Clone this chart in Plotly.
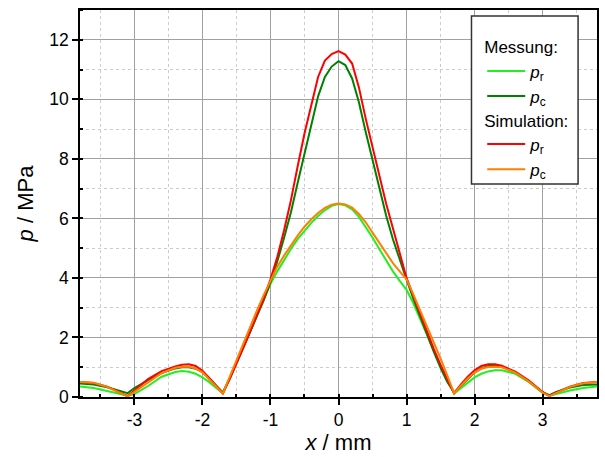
import plotly.graph_objects as go

x_mm = [-3.8, -3.6, -3.4, -3.2, -3.1, -3.0, -2.8, -2.6, -2.4, -2.3, -2.2, -2.1, -2.0, -1.9, -1.8,
        -1.7, -1.6, -1.5, -1.4, -1.3, -1.2, -1.1, -1.0, -0.9, -0.8, -0.7, -0.6, -0.5, -0.4, -0.3, -0.2, -0.1,
        0.0,
        0.1, 0.2, 0.3, 0.4, 0.5, 0.6, 0.7, 0.8, 0.9, 1.0, 1.1, 1.2, 1.3, 1.4, 1.5, 1.6, 1.7,
        1.8, 1.9, 2.0, 2.1, 2.2, 2.3, 2.4, 2.6, 2.8, 3.0, 3.1, 3.2, 3.4, 3.6, 3.8]

# Messung p_r (hellgrün)
mess_pr = [0.35, 0.30, 0.20, 0.10, 0.04, 0.10, 0.37, 0.68, 0.84, 0.87, 0.85, 0.78, 0.66, 0.50, 0.30,
           0.12, 0.62, 1.15, 1.70, 2.25, 2.80, 3.32, 3.80, 4.22, 4.60, 4.97, 5.30, 5.58, 5.85, 6.08, 6.28, 6.42,
           6.48,
           6.44, 6.30, 6.05, 5.72, 5.36, 4.97, 4.58, 4.22, 3.90, 3.60, 3.15, 2.65, 2.10, 1.55, 1.05, 0.55, 0.12,
           0.30, 0.50, 0.66, 0.78, 0.86, 0.90, 0.90, 0.78, 0.50, 0.14, 0.05, 0.10, 0.22, 0.30, 0.35]

# Messung p_c (dunkelgrün)
mess_pc = [0.45, 0.42, 0.33, 0.20, 0.13, 0.30, 0.57, 0.80, 0.96, 1.00, 1.00, 0.95, 0.84, 0.62, 0.38,
           0.15, 0.62, 1.12, 1.65, 2.18, 2.72, 3.25, 3.85, 4.55, 5.35, 6.20, 7.20, 8.20, 9.10, 10.10, 10.75, 11.10,
           11.28,
           11.15, 10.70, 9.90, 8.90, 7.98, 6.98, 6.10, 5.30, 4.60, 3.95, 3.30, 2.70, 2.10, 1.52, 0.98, 0.50, 0.15,
           0.38, 0.62, 0.82, 0.96, 1.04, 1.05, 1.02, 0.83, 0.53, 0.16, 0.06, 0.17, 0.32, 0.40, 0.42]

# Simulation p_r (rot)
sim_pr = [0.50, 0.47, 0.35, 0.15, 0.03, 0.22, 0.60, 0.87, 1.03, 1.08, 1.10, 1.04, 0.88, 0.64, 0.38,
          0.12, 0.60, 1.10, 1.65, 2.20, 2.75, 3.30, 3.95, 4.70, 5.60, 6.60, 7.75, 8.85, 9.80, 10.75, 11.30, 11.52,
          11.62,
          11.50, 11.20, 10.40, 9.35, 8.35, 7.45, 6.50, 5.65, 4.80, 4.00, 3.40, 2.80, 2.20, 1.62, 1.08, 0.58, 0.12,
          0.42, 0.68, 0.90, 1.04, 1.10, 1.10, 1.05, 0.85, 0.55, 0.17, 0.03, 0.15, 0.35, 0.47, 0.50]

# Simulation p_c (orange)
sim_pc = [0.50, 0.48, 0.34, 0.14, 0.02, 0.17, 0.50, 0.80, 0.98, 1.02, 1.02, 0.96, 0.83, 0.60, 0.37,
          0.12, 0.68, 1.25, 1.80, 2.35, 2.90, 3.42, 3.92, 4.38, 4.75, 5.10, 5.42, 5.72, 5.97, 6.18, 6.35, 6.46,
          6.50,
          6.47, 6.36, 6.15, 5.87, 5.52, 5.17, 4.82, 4.50, 4.22, 3.95, 3.45, 2.92, 2.40, 1.85, 1.30, 0.72, 0.12,
          0.38, 0.62, 0.82, 0.95, 1.01, 1.02, 1.00, 0.82, 0.52, 0.15, 0.03, 0.14, 0.34, 0.46, 0.50]

x_ticks = [-3, -2, -1, 0, 1, 2, 3]
y_ticks = [0, 2, 4, 6, 8, 10, 12]

FONT = "Liberation Sans, Arial, sans-serif"

fig = go.Figure()
fig.add_trace(go.Scatter(x=x_mm, y=mess_pr, mode="lines", name="<i>p</i><sub>r</sub>",
                         line=dict(color="#22ee22", width=2), legend="legend"))
fig.add_trace(go.Scatter(x=x_mm, y=mess_pc, mode="lines", name="<i>p</i><sub>c</sub>",
                         line=dict(color="#008000", width=2), legend="legend"))
fig.add_trace(go.Scatter(x=x_mm, y=sim_pr, mode="lines", name="<i>p</i><sub>r</sub>",
                         line=dict(color="#ff0000", width=2), legend="legend2"))
fig.add_trace(go.Scatter(x=x_mm, y=sim_pc, mode="lines", name="<i>p</i><sub>c</sub>",
                         line=dict(color="#ff8000", width=2), legend="legend2"))

axis_common = dict(
    showline=True, linecolor="black", linewidth=1.5, mirror=True,
    showgrid=True, gridcolor="#a0a0a0", gridwidth=1,
    zeroline=False,
    ticks="outside", ticklen=6, tickcolor="black", tickwidth=1.5,
    tickfont=dict(family=FONT, size=17.5, color="black"),
)

fig.update_xaxes(
    **axis_common,
    range=[-3.8, 3.8], tickvals=x_ticks, ticktext=[str(v) for v in x_ticks],
    minor=dict(dtick=0.5, tick0=0, ticks="inside", ticklen=3, tickcolor="black",
               showgrid=True, gridcolor="#cccccc", griddash="dot", gridwidth=1),
    title=dict(text="<i>x</i> / mm", font=dict(family=FONT, size=22, color="black"), standoff=4),
)
fig.update_yaxes(
    **axis_common,
    range=[0, 13], tickvals=y_ticks, ticktext=[str(v) for v in y_ticks],
    minor=dict(dtick=1, tick0=0, ticks="inside", ticklen=3, tickcolor="black",
               showgrid=True, gridcolor="#cccccc", griddash="dot", gridwidth=1),
    title=dict(text="<i>p</i> / MPa", font=dict(family=FONT, size=22, color="black"), standoff=10),
)

# legend frame
fig.add_shape(type="rect", xref="paper", yref="paper",
              x0=(473 - 80) / 519, x1=(580 - 80) / 519,
              y0=(397 - 184) / 387, y1=(397 - 16) / 387,
              line=dict(color="#333333", width=1.5), fillcolor="white", layer="above")

LEG_SIZE = 17
legend_common = dict(
    bgcolor="rgba(0,0,0,0)", borderwidth=0,
    font=dict(family=FONT, size=LEG_SIZE, color="black"),
    xanchor="left", yanchor="top", itemwidth=38, tracegroupgap=0,
)
fig.update_layout(
    legend=dict(**legend_common, x=0.778, y=0.945,
                title=dict(text="Messung:", font=dict(family=FONT, size=LEG_SIZE, color="black"))),
    legend2=dict(**legend_common, x=0.778, y=0.756,
                 title=dict(text="Simulation:", font=dict(family=FONT, size=LEG_SIZE, color="black"))),
    width=605, height=457,
    margin=dict(l=80, r=6, t=10, b=60),
    paper_bgcolor="white", plot_bgcolor="white",
    showlegend=True,
)

fig.write_html("out.html", config={"displayModeBar": False},
               post_script="document.body.style.margin='0';")
